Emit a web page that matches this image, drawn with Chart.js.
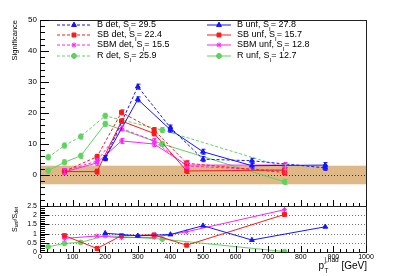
<!DOCTYPE html>
<html>
<head>
<meta charset="utf-8">
<script src="https://cdn.jsdelivr.net/npm/chart.js@4"></script>
<style>
  body { margin: 0; background: #fff; }
  #wrap { position: relative; width: 407px; height: 276px; }
  canvas { position: absolute; left: 0; top: 0; }
</style>
</head>
<body>
<div id="wrap">
  <canvas id="topChart" width="407" height="276"></canvas>
  <canvas id="ratioChart" width="407" height="276"></canvas>
</div>
<script>
/* values */
const xB = [200, 300, 400, 500, 650, 875];
const bDet = [5.4, 28.5, 15.3, 5.1, 4.6, 2.3];
const bUnf = [5.5, 24.4, 14.6, 7.5, 3.0, 3.2];
const bRatio = [1.02, 0.88, 0.95, 1.43, 0.65, 1.37];

const xSB = [75, 175, 250, 350, 450, 750];
const sbDet = [1.2, 5.9, 20.2, 14.5, 3.8, 0.8];
const sbUnf = [1.1, 1.1, 17.4, 13.4, 1.3, 1.6];
const sbRatio = [0.89, 0.19, 0.89, 0.93, 0.37, 2.04];

const xSBM = [75, 175, 250, 350, 450, 750];
const sbmDet = [1.3, 4.5, 15.0, 11.0, 2.9, 1.4];
const sbmUnf = [1.0, 3.9, 11.0, 10.0, 3.2, 3.2];
const sbmRatio = [0.74, 0.87, 0.78, 0.8, 1.1, 2.3];

const xR = [25, 75, 125, 200, 375, 750];
const rDet = [5.7, 9.5, 12.4, 19.1, 14.5, 2.5];
const rUnf = [1.4, 4.1, 6.2, 16.5, 10.0, -2.2];
const rRatio = [0.28, 0.47, 0.52, 0.89, 0.7, 0.02];

const sigDet = ["29.5", "22.4", "15.5", "25.9"];
const sigUnf = ["27.8", "15.7", "12.8", "12.7"];
const names = ["B", "SB", "SBM", "R"];

const xTicks = [0, 100, 200, 300, 400, 500, 600, 700, 800, 900, 1000];
const yTicksTop = [0, 10, 20, 30, 40, 50];
const yTicksRatio = [0, 0.5, 1, 1.5, 2, 2.5];
const bandLo = -3, bandHi = 3;
const errSize = 0.8;

const FONT = "'Liberation Sans', Arial, sans-serif";
const colors = ["#1414ff", "#ff1a1a", "#ff22ff", "#5fd35f"];
const shapes = ["triangle", "rect", "star", "circle"];
const radii = [2.8, 2.8, 2.6, 2.4];

const xs = [xB, xSB, xSBM, xR];
const dets = [bDet, sbDet, sbmDet, rDet];
const unfs = [bUnf, sbUnf, sbmUnf, rUnf];
const ratios = [bRatio, sbRatio, sbmRatio, rRatio];

function pts(xArr, yArr) {
  return xArr.map((x, i) => ({ x: x, y: yArr[i] }));
}

function makeSet(i, data, dashed) {
  return {
    data: data,
    borderColor: colors[i],
    backgroundColor: colors[i],
    borderWidth: 1,
    borderDash: dashed ? [3, 2] : [],
    pointStyle: shapes[i],
    pointRadius: radii[i],
    pointBorderWidth: 1,
    tension: 0,
    fill: false,
  };
}

/* ROOT style tick marks drawn inside the frame */
function ticksLeft(ctx, area, yScale, from, to, step, majorEvery) {
  ctx.strokeStyle = "#000";
  ctx.lineWidth = 1;
  let n = 0;
  for (let v = from; v <= to + 1e-9; v += step, n++) {
    const y = Math.round(yScale.getPixelForValue(v)) + 0.5;
    const len = n % majorEvery === 0 ? 9 : 5;
    ctx.beginPath();
    ctx.moveTo(area.left, y);
    ctx.lineTo(area.left + len, y);
    ctx.stroke();
  }
}

function ticksBottom(ctx, area, xScale) {
  ctx.strokeStyle = "#000";
  ctx.lineWidth = 1;
  for (let v = 0; v <= 1000; v += 20) {
    const x = Math.round(xScale.getPixelForValue(v)) + 0.5;
    const len = v % 100 === 0 ? 6 : 3;
    ctx.beginPath();
    ctx.moveTo(x, area.bottom);
    ctx.lineTo(x, area.bottom - len);
    ctx.stroke();
  }
}

function frame(ctx, area) {
  ctx.strokeStyle = "#222";
  ctx.lineWidth = 1;
  ctx.strokeRect(area.left + 0.5, area.top + 0.5, area.right - area.left, area.bottom - area.top);
}

function legendEntry(ctx, x0, x1, y, i, dashed, label, sig) {
  ctx.save();
  ctx.strokeStyle = colors[i];
  ctx.lineWidth = 1;
  ctx.setLineDash(dashed ? [3, 2] : []);
  ctx.beginPath();
  ctx.moveTo(x0, y);
  ctx.lineTo(x1, y);
  ctx.stroke();
  ctx.setLineDash([]);
  Chart.helpers.drawPoint(ctx, {
    pointStyle: shapes[i], radius: radii[i], borderWidth: 1
  }, (x0 + x1) / 2, y);
  ctx.fillStyle = colors[i];
  ctx.fill();
  ctx.restore();

  ctx.fillStyle = "#000";
  ctx.textBaseline = "middle";
  ctx.textAlign = "left";
  ctx.font = "9px " + FONT;
  let tx = x1 + 6;
  const head = label + ", S";
  ctx.fillText(head, tx, y);
  tx += ctx.measureText(head).width;
  ctx.font = "6px " + FONT;
  ctx.fillText("I", tx, y + 4);
  tx += ctx.measureText("I").width;
  ctx.font = "9px " + FONT;
  ctx.fillText("= " + sig, tx, y);
}

const topPlugin = {
  id: "topDecor",
  beforeDatasetsDraw(chart) {
    const { ctx, chartArea: a, scales } = chart;
    const yLo = scales.y.getPixelForValue(bandLo);
    const yHi = scales.y.getPixelForValue(bandHi);
    ctx.save();
    ctx.fillStyle = "rgb(222,185,135)";
    ctx.fillRect(a.left, yHi, a.right - a.left, yLo - yHi);
    const y0 = Math.round(scales.y.getPixelForValue(0)) + 0.5;
    ctx.strokeStyle = "#333";
    ctx.setLineDash([1, 2]);
    ctx.beginPath();
    ctx.moveTo(a.left, y0);
    ctx.lineTo(a.right, y0);
    ctx.stroke();
    ctx.restore();
  },
  afterDatasetsDraw(chart) {
    const { ctx, scales } = chart;
    ctx.save();
    chart.data.datasets.forEach((ds, di) => {
      const meta = chart.getDatasetMeta(di);
      ctx.strokeStyle = ds.borderColor;
      ctx.lineWidth = 1;
      meta.data.forEach((p, k) => {
        const v = ds.data[k].y;
        const yA = scales.y.getPixelForValue(v - errSize);
        const yB = scales.y.getPixelForValue(v + errSize);
        const x = Math.round(p.x) + 0.5;
        ctx.beginPath();
        ctx.moveTo(x, yA);
        ctx.lineTo(x, yB);
        ctx.moveTo(x - 2, yA);
        ctx.lineTo(x + 2, yA);
        ctx.moveTo(x - 2, yB);
        ctx.lineTo(x + 2, yB);
        ctx.stroke();
      });
    });
    ctx.restore();
  },
  afterDraw(chart) {
    const { ctx, chartArea: a, scales } = chart;
    ctx.save();
    frame(ctx, a);
    ticksLeft(ctx, a, scales.y, -10, 50, 2, 5);
    ticksBottom(ctx, a, scales.x);

    ctx.fillStyle = "#000";
    ctx.font = "8px " + FONT;
    ctx.textAlign = "right";
    ctx.textBaseline = "middle";
    yTicksTop.forEach(v => ctx.fillText(String(v), a.left - 3, scales.y.getPixelForValue(v)));

    ctx.save();
    ctx.translate(15, a.top);
    ctx.rotate(-Math.PI / 2);
    ctx.font = "7.5px " + FONT;
    ctx.textAlign = "right";
    ctx.textBaseline = "middle";
    ctx.fillText("Significance", 0, 0);
    ctx.restore();

    const rows = [25, 35, 45, 56];
    names.forEach((n, i) => {
      legendEntry(ctx, 57, 91, rows[i], i, true, n + " det", sigDet[i]);
      legendEntry(ctx, 207, 231, rows[i], i, false, n + " unf", sigUnf[i]);
    });
    ctx.restore();
  }
};

const ratioPlugin = {
  id: "ratioDecor",
  beforeDatasetsDraw(chart) {
    const { ctx, chartArea: a, scales } = chart;
    ctx.save();
    ctx.strokeStyle = "#777";
    ctx.setLineDash([1, 2]);
    [0.5, 1, 1.5, 2].forEach(v => {
      const y = Math.round(scales.y.getPixelForValue(v)) + 0.5;
      ctx.beginPath();
      ctx.moveTo(a.left, y);
      ctx.lineTo(a.right, y);
      ctx.stroke();
    });
    ctx.restore();
  },
  afterDraw(chart) {
    const { ctx, chartArea: a, scales } = chart;
    ctx.save();
    frame(ctx, a);
    ticksLeft(ctx, a, scales.y, 0, 2.5, 0.1, 5);
    ticksBottom(ctx, a, scales.x);

    ctx.fillStyle = "#000";
    ctx.font = "7px " + FONT;
    ctx.textAlign = "right";
    ctx.textBaseline = "middle";
    yTicksRatio.forEach(v => ctx.fillText(String(v), a.left - 3, scales.y.getPixelForValue(v)));

    ctx.textAlign = "center";
    ctx.textBaseline = "top";
    xTicks.forEach(v => ctx.fillText(String(v), scales.x.getPixelForValue(v), a.bottom + 2));

    // y title S_unf/S_det
    ctx.save();
    ctx.translate(15, a.top + 26);
    ctx.rotate(-Math.PI / 2);
    ctx.textBaseline = "middle";
    ctx.textAlign = "left";
    let tx = 0;
    const parts = [["S", 7, 0], ["unf", 5, 2], ["/S", 7, 0], ["det", 5, 2]];
    parts.forEach(([t, s, dy]) => {
      ctx.font = s + "px " + FONT;
      ctx.fillText(t, tx, dy);
      tx += ctx.measureText(t).width;
    });
    ctx.restore();

    // x title p_T^{j,had} [GeV]
    ctx.textBaseline = "alphabetic";
    ctx.textAlign = "right";
    ctx.font = "10px " + FONT;
    const gev = " [GeV]";
    ctx.fillText(gev, a.right + 1, 269);
    const gw = ctx.measureText(gev).width;
    ctx.font = "6.5px " + FONT;
    const sup = "j,had";
    const sw = ctx.measureText(sup).width;
    ctx.textAlign = "left";
    const sx = a.right + 1 - gw - sw;
    ctx.fillText(sup, sx, 262);
    ctx.fillText("T", sx, 273);
    ctx.font = "10px " + FONT;
    ctx.fillText("p", sx - ctx.measureText("p").width - 0.5, 269);
    ctx.restore();
  }
};

function initCharts() {
  const topSets = [];
  const ratioSets = [];
  for (let i = 0; i < 4; i++) {
    topSets.push(makeSet(i, pts(xs[i], dets[i]), true));
    topSets.push(makeSet(i, pts(xs[i], unfs[i]), false));
    ratioSets.push(makeSet(i, pts(xs[i], ratios[i]), false));
  }

  new Chart(document.getElementById("topChart").getContext("2d"), {
    type: "line",
    data: { datasets: topSets },
    options: {
      responsive: false,
      animation: false,
      devicePixelRatio: 1,
      layout: { padding: { left: 40, right: 41, top: 20, bottom: 70 } },
      plugins: { legend: { display: false }, tooltip: { enabled: false } },
      scales: {
        x: { type: "linear", min: 0, max: 1000, display: false },
        y: { type: "linear", min: -10, max: 50, display: false },
      },
    },
    plugins: [topPlugin],
  });

  new Chart(document.getElementById("ratioChart").getContext("2d"), {
    type: "line",
    data: { datasets: ratioSets },
    options: {
      responsive: false,
      animation: false,
      devicePixelRatio: 1,
      layout: { padding: { left: 40, right: 41, top: 206, bottom: 24 } },
      plugins: { legend: { display: false }, tooltip: { enabled: false } },
      scales: {
        x: { type: "linear", min: 0, max: 1000, display: false },
        y: { type: "linear", min: 0, max: 2.5, display: false },
      },
    },
    plugins: [ratioPlugin],
  });
}

window.onload = initCharts;
</script>
</body>
</html>
